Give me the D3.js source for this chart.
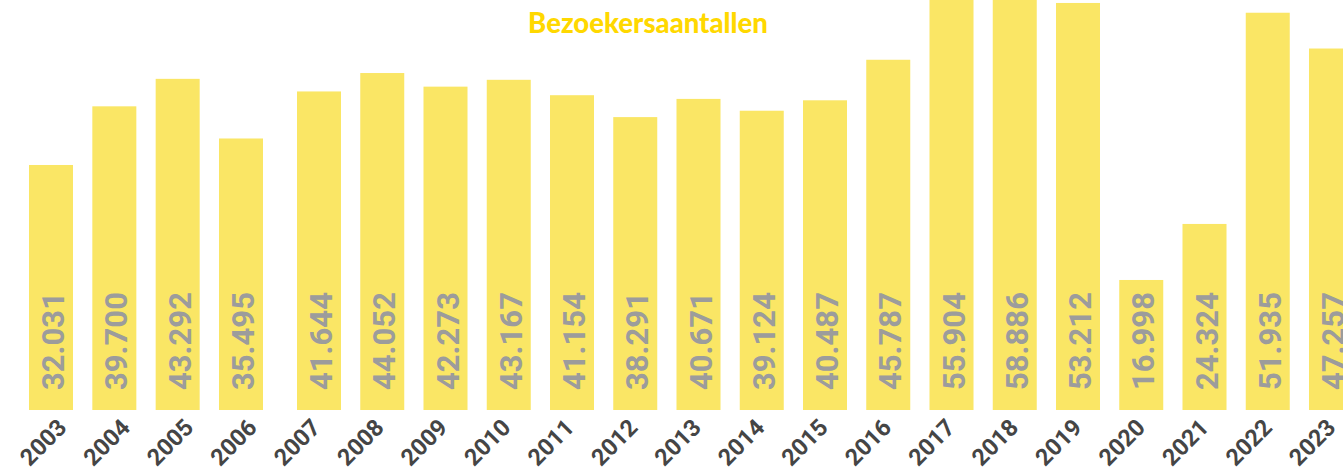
<!DOCTYPE html>
<html>
<head>
<meta charset="utf-8">
<script src="https://cdn.jsdelivr.net/npm/d3@7"></script>
<style>
  html, body { margin: 0; padding: 0; background: #ffffff; overflow: hidden; }
  svg { display: block; }
</style>
</head>
<body>
<svg id="chart" width="1343" height="472"></svg>
<script>
// Visitor numbers per year
const years = [2003, 2004, 2005, 2006, 2007, 2008, 2009, 2010, 2011, 2012, 2013,
               2014, 2015, 2016, 2017, 2018, 2019, 2020, 2021, 2022, 2023];
const visitors = [32031, 39700, 43292, 35495, 41644, 44052, 42273, 43167, 41154, 38291, 40671,
                  39124, 40487, 45787, 55904, 58886, 53212, 16998, 24324, 51935, 47257];
const titleText = "Bezoekersaantallen";

const width = 1343, height = 472;
const baseY = 410;
const barW = 44;

const svg = d3.select("#chart");

// Bar positions: a slightly wider gap sits between 2006 and 2007
const x = d3.scaleLinear()
  .domain([2003, 2006, 2007, 2023])
  .range([29, 219, 297, 1309]);

// Year labels follow an evenly spaced grid
const xLabel = d3.scaleLinear()
  .domain([2003, 2023])
  .range([68, 1337]);

const y = d3.scaleLinear()
  .domain([0, 53600])
  .range([baseY, 0]);

const nl = d3.formatLocale({ decimal: ",", thousands: ".", grouping: [3], currency: ["€", ""] });
const fmt = nl.format(",d");

const data = years.map((yr, i) => ({ year: yr, value: visitors[i] }));

// Bars
svg.append("g")
  .selectAll("rect")
  .data(data)
  .join("rect")
  .attr("x", d => x(d.year))
  .attr("y", d => y(d.value))
  .attr("width", barW)
  .attr("height", d => baseY - y(d.value))
  .attr("fill", "#fae665");

// Value labels, written upward inside each bar
svg.append("g")
  .selectAll("text")
  .data(data)
  .join("text")
  .attr("transform", d => `translate(${x(d.year) + barW / 2 + 13},${baseY - 20}) rotate(-90)`)
  .attr("text-anchor", "start")
  .attr("font-family", "Roboto, sans-serif")
  .attr("font-weight", 700)
  .attr("font-size", 31)
  .attr("fill", "#9c9c9c")
  .text(d => fmt(d.value));

// Year labels along the bottom
svg.append("g")
  .selectAll("text")
  .data(data)
  .join("text")
  .attr("transform", d => `translate(${xLabel(d.year)},${429}) rotate(-45)`)
  .attr("text-anchor", "end")
  .attr("font-family", "Roboto, sans-serif")
  .attr("font-weight", 700)
  .attr("font-size", 23.5)
  .attr("fill", "#454545")
  .text(d => d.year);

// Title
svg.append("text")
  .attr("x", 648)
  .attr("y", 33)
  .attr("text-anchor", "middle")
  .attr("font-family", "Lato, sans-serif")
  .attr("font-weight", 900)
  .attr("font-size", 27.5)
  .attr("fill", "#ffd800")
  .text(titleText);
</script>
</body>
</html>
